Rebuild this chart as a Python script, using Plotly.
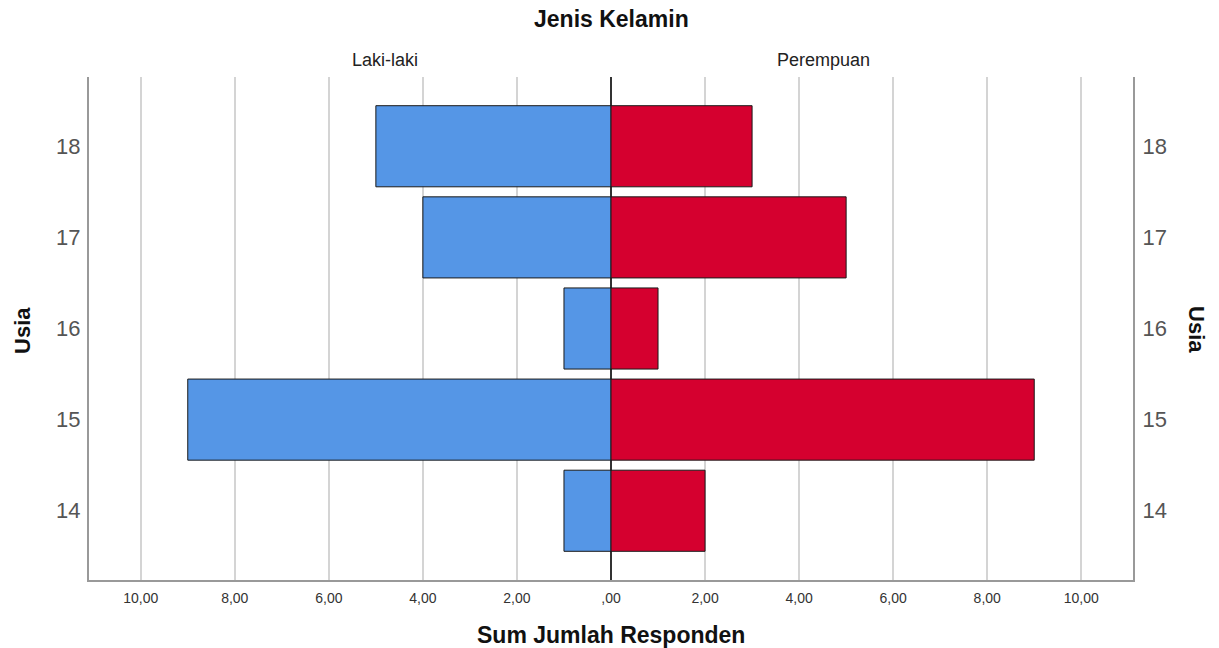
import plotly.graph_objects as go

ages = [14, 15, 16, 17, 18]
laki = [1, 9, 1, 4, 5]
perempuan = [2, 9, 1, 5, 3]
xticks = [-10, -8, -6, -4, -2, 0, 2, 4, 6, 8, 10]
xlabels = ["10,00", "8,00", "6,00", "4,00", "2,00", ",00", "2,00", "4,00", "6,00", "8,00", "10,00"]
age_labels = [str(a) for a in ages]

FONT = "Liberation Sans, Arial, sans-serif"

fig = go.Figure()
fig.add_trace(go.Bar(
    x=[-v for v in laki], y=ages, orientation="h", width=0.89,
    marker=dict(color="#5596E6", line=dict(color="#1a1a1a", width=1)),
    name="Laki-laki", showlegend=False, xaxis="x", yaxis="y"))
fig.add_trace(go.Bar(
    x=perempuan, y=ages, orientation="h", width=0.89,
    marker=dict(color="#D5002F", line=dict(color="#1a1a1a", width=1)),
    name="Perempuan", showlegend=False, xaxis="x", yaxis="y2"))

yr = [13.24, 18.76]
fig.update_layout(
    width=1219, height=648,
    margin=dict(l=89, r=86, t=77, b=68),
    paper_bgcolor="white", plot_bgcolor="white",
    barmode="overlay",
    font=dict(family=FONT, color="#333"),
    xaxis=dict(range=[-11.1, 11.1], tickvals=xticks, ticktext=xlabels,
               showgrid=True, gridcolor="#d4d4d4", gridwidth=2,
               zeroline=True, zerolinecolor="#333", zerolinewidth=2,
               showline=True, linecolor="#999", linewidth=2,
               ticks="", ticklabelstandoff=4,
               tickfont=dict(size=14, color="#333", family=FONT)),
    yaxis=dict(range=yr, tickvals=ages, ticktext=age_labels,
               showgrid=False, zeroline=False,
               showline=True, linecolor="#999", linewidth=2,
               ticks="", ticklabelstandoff=2,
               tickfont=dict(size=22, color="#555", family=FONT)),
    yaxis2=dict(range=yr, tickvals=ages, ticktext=age_labels, overlaying="y", side="right",
                showgrid=False, zeroline=False,
                showline=True, linecolor="#999", linewidth=2,
                ticks="", ticklabelstandoff=3,
                tickfont=dict(size=22, color="#555", family=FONT)),
    annotations=[
        dict(text="<b>Jenis Kelamin</b>", x=0.5, y=1.115, xref="paper", yref="paper",
             yanchor="middle", showarrow=False,
             font=dict(size=23, color="#111", family=FONT)),
        dict(text="Laki-laki", x=0.25, y=1.034, xref="paper", yref="paper",
             yanchor="middle", showarrow=False,
             font=dict(size=18, color="#222", family=FONT)),
        dict(text="Perempuan", x=0.75, y=1.034, xref="paper", yref="paper",
             yanchor="middle", showarrow=False,
             font=dict(size=18, color="#222", family=FONT)),
        dict(text="<b>Sum Jumlah Responden</b>", x=0.5, y=-0.109, xref="paper", yref="paper",
             yanchor="middle", showarrow=False,
             font=dict(size=23, color="#111", family=FONT)),
        dict(text="<b>Usia</b>", x=-0.0642, y=0.497, xref="paper", yref="paper",
             xanchor="center", yanchor="middle", textangle=-90, showarrow=False,
             font=dict(size=22, color="#111", family=FONT)),
        dict(text="<b>Usia</b>", x=1.0613, y=0.497, xref="paper", yref="paper",
             xanchor="center", yanchor="middle", textangle=90, showarrow=False,
             font=dict(size=22, color="#111", family=FONT)),
    ],
)

# remove the browser's default 8px body margin so the figure fills the window
fig.write_html("out.html", config={"displayModeBar": False},
               post_script="document.body.style.margin='0';")
